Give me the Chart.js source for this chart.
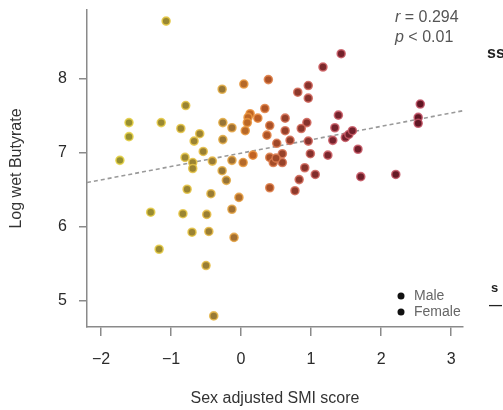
<!DOCTYPE html>
<html>
<head>
<meta charset="utf-8">
<script src="https://cdn.jsdelivr.net/npm/chart.js@4.4.1/dist/chart.umd.min.js"></script>
<style>
  html, body { margin: 0; padding: 0; background: #ffffff; }
  #wrap { width: 503px; height: 410px; }
</style>
</head>
<body>
<div id="wrap"><canvas id="chart" width="503" height="410"></canvas></div>
<script>
// Sex adjusted SMI score (x) and log wet butyrate (y), one entry per subject
const smiScore = [
  -1.07, -1.60, -1.60, -1.73, -1.14, -0.79, -0.86, -0.59, -0.67, -0.54,
  -0.80, -0.69, -0.41, -0.69, -0.77, -0.43, -0.27, 0.04, 0.39, -0.26,
  -0.13, -0.26, 0.13, 0.10, 0.09, 0.06, 0.34, 0.24, 0.63, 0.41,
  0.63, 0.37, 0.70, 0.51, 0.81, -0.13, 0.03, 0.17, 0.41, 0.46,
  0.59, 0.59, 0.50, -0.27, -0.21, -0.03, 0.41, 0.77, 1.43, 1.17,
  0.96, 0.96, 2.56, 2.53, 2.53, 1.39, 0.94, 0.86, 1.34, 0.96,
  1.31, 1.49, 1.54, 1.59, 0.99, 1.24, 1.67, 0.91, 1.06, 1.71,
  2.21, 0.83, -1.29, -0.83, -0.49, -0.13, -0.70, -0.46, -0.10, -1.17,
  -0.50, -0.39
];
const logButyrate = [
  8.78, 7.41, 7.22, 6.90, 7.41, 7.64, 7.33, 7.26, 7.16, 7.02,
  6.94, 6.87, 6.89, 6.79, 6.51, 6.45, 7.86, 7.93, 7.99, 7.41,
  7.34, 7.18, 7.53, 7.48, 7.41, 7.30, 7.60, 7.47, 7.47, 7.37,
  7.30, 7.24, 7.17, 7.13, 7.82, 6.90, 6.87, 6.97, 6.94, 6.87,
  6.99, 6.87, 6.93, 6.76, 6.63, 6.40, 6.53, 6.49, 8.34, 8.16,
  7.91, 7.74, 7.66, 7.48, 7.40, 7.51, 7.41, 7.33, 7.34, 7.16,
  7.17, 7.21, 7.25, 7.30, 6.99, 6.97, 7.05, 6.80, 6.71, 6.68,
  6.71, 6.64, 6.20, 6.18, 6.17, 6.24, 5.93, 5.94, 5.86, 5.70,
  5.48, 4.80
];

// Fitted regression line end points
const fitX = [-2.2, 3.17];
const fitY = [6.60, 7.57];

// Axis ticks and text
const xTicks = [-2, -1, 0, 1, 2, 3];
const yTicks = [5, 6, 7, 8];
const xTitle = 'Sex adjusted SMI score';
const yTitle = 'Log wet Butyrate';
const legendLabels = ['Male', 'Female'];
const statSymbols = ['r', 'p'];
const statTexts = [' = 0.294', ' < 0.01'];

// Colour ramp along the x axis: yellow -> orange -> dark red
const fillStops = [
  [-1.8, [150, 145, 48]],
  [-0.6, [155, 130, 50]],
  [-0.2, [150, 115, 55]],
  [0.15, [195, 100, 35]],
  [0.6, [150, 65, 42]],
  [1.3, [118, 35, 45]],
  [2.6, [95, 22, 35]]
];
const haloStops = [
  [-1.8, [232, 212, 70]],
  [-0.6, [232, 196, 70]],
  [-0.2, [228, 170, 70]],
  [0.15, [235, 145, 60]],
  [0.6, [215, 115, 85]],
  [1.3, [205, 95, 105]],
  [2.6, [195, 85, 105]]
];
function ramp(stops, v, alpha) {
  if (v <= stops[0][0]) return 'rgba(' + stops[0][1].join(',') + ',' + alpha + ')';
  for (let i = 1; i < stops.length; i++) {
    if (v <= stops[i][0]) {
      const t = (v - stops[i - 1][0]) / (stops[i][0] - stops[i - 1][0]);
      const a = stops[i - 1][1], b = stops[i][1];
      const c = a.map((ch, k) => Math.round(ch + (b[k] - ch) * t));
      return 'rgba(' + c.join(',') + ',' + alpha + ')';
    }
  }
  return 'rgba(' + stops[stops.length - 1][1].join(',') + ',' + alpha + ')';
}

const points = smiScore.map((x, i) => ({ x: x, y: logButyrate[i] }));
const fitLine = fitX.map((x, i) => ({ x: x, y: fitY[i] }));

const FONT = '"Liberation Sans", Arial, Helvetica, sans-serif';
const minus = v => (v < 0 ? '\u2212' + Math.abs(v) : String(v));

// Statistics, legend and neighbouring panel text drawn on top of the plot
const overlay = {
  id: 'overlay',
  afterDraw(chart) {
    const ctx = chart.ctx;
    ctx.save();
    ctx.textBaseline = 'middle';
    ctx.textAlign = 'left';
    // correlation statistics
    statSymbols.forEach((s, i) => {
      const y = 18 + i * 20;
      ctx.fillStyle = '#555';
      ctx.font = 'italic 16px ' + FONT;
      ctx.fillText(s, 395, y);
      const w = ctx.measureText(s).width;
      ctx.font = '16px ' + FONT;
      ctx.fillText(statTexts[i], 395 + w, y);
    });
    // legend
    legendLabels.forEach((lab, i) => {
      const y = 296 + i * 16;
      ctx.fillStyle = '#111';
      ctx.beginPath();
      ctx.arc(401, y, 3.5, 0, Math.PI * 2);
      ctx.fill();
      ctx.fillStyle = '#666';
      ctx.font = '14px ' + FONT;
      ctx.fillText(lab, 414, y);
    });
    // edge of the neighbouring panel
    ctx.fillStyle = '#222';
    ctx.font = 'bold 16px ' + FONT;
    ctx.fillText('ss', 487, 54);
    ctx.font = 'bold 13px ' + FONT;
    ctx.fillText('s', 491, 288);
    ctx.fillText('\u2014', 489, 305);
    ctx.restore();
  }
};

new Chart(document.getElementById('chart'), {
  type: 'scatter',
  data: {
    datasets: [
      {
        label: 'subjects',
        data: points,
        order: 0,
        pointRadius: 4,
        pointHoverRadius: 4,
        pointBorderWidth: 1.6,
        backgroundColor: c => ramp(fillStops, c.raw ? c.raw.x : 0, 1),
        borderColor: c => ramp(haloStops, c.raw ? c.raw.x : 0, 0.85)
      },
      {
        type: 'line',
        label: 'fit',
        data: fitLine,
        order: 1,
        showLine: true,
        borderColor: '#9a9a9a',
        borderWidth: 1.6,
        borderDash: [4, 3],
        pointRadius: 0,
        fill: false
      }
    ]
  },
  options: {
    responsive: false,
    animation: false,
    devicePixelRatio: 1,
    layout: { padding: { left: 0, top: 10, right: 40, bottom: 0 } },
    plugins: { legend: { display: false }, tooltip: { enabled: false } },
    scales: {
      x: {
        type: 'linear',
        min: -2.2,
        max: 3.17,
        afterBuildTicks: s => { s.ticks = xTicks.map(v => ({ value: v })); },
        afterFit: s => { s.height = 83; s.paddingLeft = 0; s.paddingRight = 0; },
        ticks: {
          autoSkip: false, maxRotation: 0,
          padding: 14,
          color: '#2a2a2a',
          font: { family: FONT, size: 16 },
          callback: v => minus(v)
        },
        grid: { drawOnChartArea: false, drawTicks: true, tickLength: 9, color: '#8a8a8a', lineWidth: 1.5 },
        border: { display: true, color: '#8a8a8a', width: 1.5 },
        title: {
          display: true, text: xTitle, color: '#333',
          font: { family: FONT, size: 16 },
          padding: { top: 0, bottom: 2 }
        }
      },
      y: {
        type: 'linear',
        min: 4.65,
        max: 8.93,
        afterBuildTicks: s => { s.ticks = yTicks.map(v => ({ value: v })); },
        afterFit: s => { s.width = 87; s.paddingTop = 0; s.paddingBottom = 0; },
        ticks: {
          autoSkip: false,
          padding: 12,
          color: '#2a2a2a',
          font: { family: FONT, size: 16 },
          callback: v => minus(v)
        },
        grid: { drawOnChartArea: false, drawTicks: true, tickLength: 8, color: '#8a8a8a', lineWidth: 1.5 },
        border: { display: true, color: '#8a8a8a', width: 1.5 },
        title: {
          display: true, text: yTitle, color: '#333',
          font: { family: FONT, size: 16 },
          padding: { top: 7, bottom: 0 }
        }
      }
    }
  },
  plugins: [overlay]
});
</script>
</body>
</html>
